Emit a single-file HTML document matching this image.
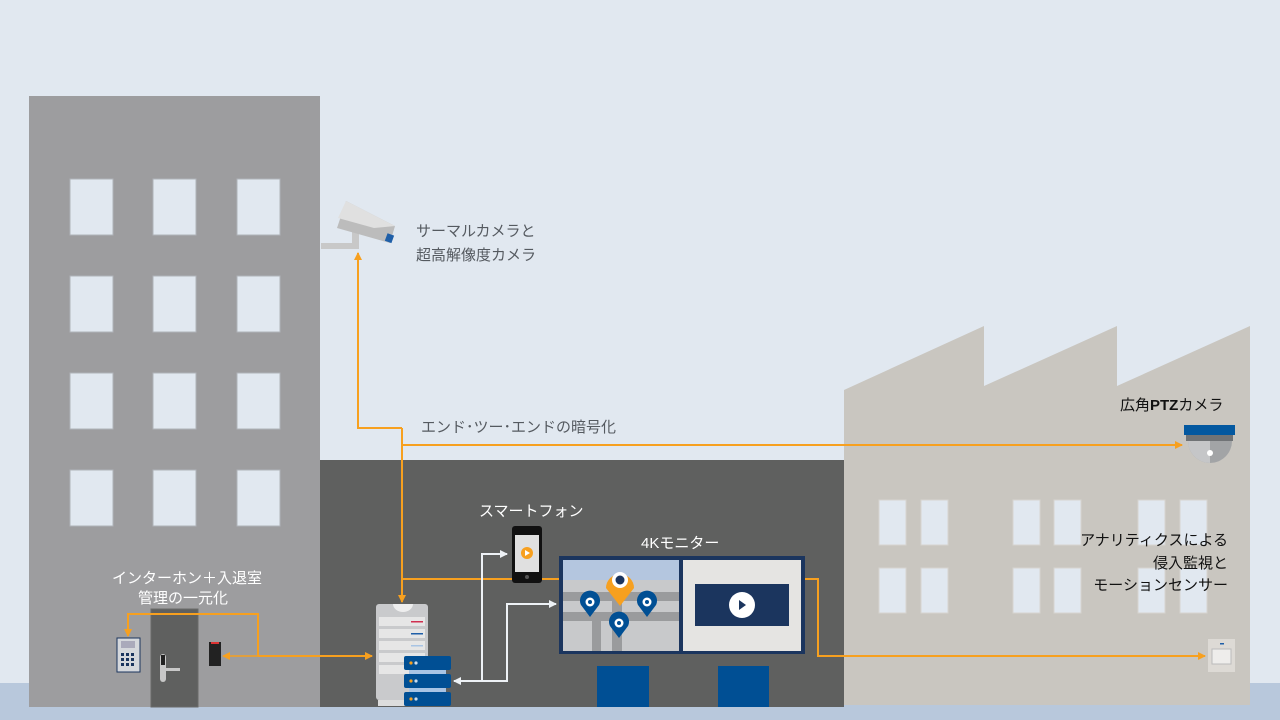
<!DOCTYPE html>
<html><head><meta charset="utf-8"><style>
html,body{margin:0;padding:0;background:#e1e8f0;}
svg{display:block}
text{font-family:"Liberation Sans","Noto Sans CJK JP",sans-serif;font-size:15px;}
</style></head><body>
<svg width="1280" height="720" viewBox="0 0 1280 720" xmlns="http://www.w3.org/2000/svg">
<defs>
<marker id="ao" markerWidth="8" markerHeight="8" refX="7" refY="4" orient="auto" markerUnits="userSpaceOnUse"><path d="M0,0 L8,4 L0,8z" fill="#f7a01f"/></marker>
<marker id="aw" markerWidth="8" markerHeight="8" refX="7" refY="4" orient="auto" markerUnits="userSpaceOnUse"><path d="M0,0 L8,4 L0,8z" fill="#eef2f6"/></marker>
</defs>
<rect width="1280" height="720" fill="#e1e8f0"/>
<rect x="0" y="683" width="1280" height="37" fill="#b8c8dc"/>
<!-- left building -->
<rect x="29" y="96" width="291" height="611" fill="#9d9d9f"/>
<g fill="#e1e8f0" stroke="#b0b3b8" stroke-width="1">
<rect x="70" y="179" width="43" height="56"/><rect x="153" y="179" width="43" height="56"/><rect x="237" y="179" width="43" height="56"/>
<rect x="70" y="276" width="43" height="56"/><rect x="153" y="276" width="43" height="56"/><rect x="237" y="276" width="43" height="56"/>
<rect x="70" y="373" width="43" height="56"/><rect x="153" y="373" width="43" height="56"/><rect x="237" y="373" width="43" height="56"/>
<rect x="70" y="470" width="43" height="56"/><rect x="153" y="470" width="43" height="56"/><rect x="237" y="470" width="43" height="56"/>
</g>
<!-- middle -->
<rect x="320" y="460" width="524" height="247" fill="#5f605f"/>
<!-- factory -->
<polygon points="844,390 984,326 984,386 1117,326 1117,386 1250,326 1250,705 844,705" fill="#c9c6c0"/>
<g fill="#e1e8f0" stroke="#d6d4cf">
<rect x="879" y="500" width="27" height="45"/><rect x="921" y="500" width="27" height="45"/>
<rect x="1013" y="500" width="27" height="45"/><rect x="1054" y="500" width="27" height="45"/>
<rect x="1138" y="500" width="27" height="45"/><rect x="1180" y="500" width="27" height="45"/>
<rect x="879" y="568" width="27" height="45"/><rect x="921" y="568" width="27" height="45"/>
<rect x="1013" y="568" width="27" height="45"/><rect x="1054" y="568" width="27" height="45"/>
<rect x="1138" y="568" width="27" height="45"/><rect x="1180" y="568" width="27" height="45"/>
</g>
<!-- door -->
<rect x="151" y="609" width="47" height="98" fill="#5f605f" stroke="#6a6a6a"/>
<rect x="160" y="654" width="6" height="28" rx="3" fill="#c8c8c8"/><rect x="160" y="668" width="20" height="3" fill="#c8c8c8"/><rect x="161" y="655" width="4" height="10" fill="#222"/>
<!-- keypad -->
<rect x="117" y="638" width="23" height="34" fill="#d5d8dc" stroke="#1b355e"/>
<rect x="121" y="641" width="14" height="7" fill="#aab"/>
<g fill="#1b355e"><rect x="121" y="653" width="3" height="3"/><rect x="126" y="653" width="3" height="3"/><rect x="131" y="653" width="3" height="3"/><rect x="121" y="658" width="3" height="3"/><rect x="126" y="658" width="3" height="3"/><rect x="131" y="658" width="3" height="3"/><rect x="121" y="663" width="3" height="3"/><rect x="126" y="663" width="3" height="3"/><rect x="131" y="663" width="3" height="3"/></g>
<!-- reader -->
<rect x="209" y="642" width="12" height="24" fill="#222"/><rect x="211" y="642" width="8" height="2" fill="#d33"/>
<!-- server tower -->
<rect x="376" y="604" width="52" height="96" rx="3" fill="#c9cacc"/>
<path d="M393,604 a10,8 0 0 0 20,0z" fill="#eee"/>
<g fill="#e6e6e6"><rect x="379" y="617" width="46" height="9"/><rect x="379" y="629" width="46" height="9"/><rect x="379" y="641" width="46" height="9"/><rect x="379" y="653" width="46" height="9"/><rect x="379" y="665" width="46" height="9"/></g>
<rect x="411" y="621" width="12" height="1.5" fill="#d03050"/><rect x="411" y="633" width="12" height="1.5" fill="#1f5fa8"/><rect x="411" y="645" width="12" height="1.5" fill="#a8c4e4"/>
<rect x="378" y="700" width="40" height="6" fill="#ddd"/>
<rect x="409" y="668" width="37" height="38" fill="#a8c4e4"/>
<g fill="#004f94"><rect x="404" y="656" width="47" height="14" rx="2"/><rect x="404" y="674" width="47" height="14" rx="2"/><rect x="404" y="692" width="47" height="14" rx="2"/></g>
<g fill="#f7a01f"><circle cx="411" cy="663" r="1.6"/><circle cx="411" cy="681" r="1.6"/><circle cx="411" cy="699" r="1.6"/></g>
<g fill="#cde"><circle cx="416" cy="663" r="1.6"/><circle cx="416" cy="681" r="1.6"/><circle cx="416" cy="699" r="1.6"/></g>
<!-- orange connectors -->
<g fill="none" stroke="#f7a01f" stroke-width="2">
<polyline points="402,579 560,579"/>
<polyline points="805,579 818,579 818,656 1205,656" marker-end="url(#ao)"/>
<polyline points="402,428 358,428 358,253" marker-end="url(#ao)"/>
<polyline points="402,428 402,602" marker-end="url(#ao)"/>
<polyline points="402,445 1182,445" marker-end="url(#ao)"/>
<polyline points="258,656 372,656" marker-end="url(#ao)"/>
<polyline points="258,656 258,614 128,614 128,636" marker-end="url(#ao)"/>
<polyline points="258,656 223,656" stroke-width="1.5" marker-end="url(#ao)"/>
</g>
<!-- white connectors -->
<g fill="none" stroke="#eef2f6" stroke-width="2">
<polyline points="482,681 454,681" marker-end="url(#aw)"/>
<polyline points="482,681 482,554 507,554" marker-end="url(#aw)"/>
<polyline points="482,681 507,681 507,604 556,604" marker-end="url(#aw)"/>
</g>
<!-- phone -->
<rect x="512" y="526" width="30" height="57" rx="3" fill="#111"/>
<rect x="515" y="535" width="24" height="37" fill="#e0e0e0"/>
<circle cx="527" cy="553" r="6" fill="#f7a01f"/><path d="M525,550 L530,553 L525,556z" fill="#fff"/>
<circle cx="527" cy="577" r="2" fill="#555"/>
<!-- monitor -->
<rect x="559" y="556" width="246" height="98" fill="#1b355e"/>
<rect x="563" y="560" width="116" height="91" fill="#c8c9cb"/>
<rect x="563" y="560" width="116" height="20" fill="#b4c6df"/>
<rect x="563" y="592" width="116" height="9" fill="#9a9b9d"/><rect x="563" y="612" width="116" height="9" fill="#9a9b9d"/>
<rect x="592" y="612" width="9" height="39" fill="#9a9b9d"/><rect x="612" y="592" width="10" height="59" fill="#9a9b9d"/>
<path d="M620,606 L606,588 A14,14 0 1 1 634,588 Z" fill="#f7a01f"/><circle cx="620" cy="580" r="8" fill="#fff"/><circle cx="620" cy="580" r="4.5" fill="#1b355e"/>
<g><path d="M590,617 L581,605 A10,10 0 1 1 599,605 Z" fill="#004f94"/><circle cx="590" cy="602" r="4.5" fill="#fff"/><circle cx="590" cy="602" r="2" fill="#004f94"/></g>
<g><path d="M647,617 L638,605 A10,10 0 1 1 656,605 Z" fill="#004f94"/><circle cx="647" cy="602" r="4.5" fill="#fff"/><circle cx="647" cy="602" r="2" fill="#004f94"/></g>
<g><path d="M619,638 L610,626 A10,10 0 1 1 628,626 Z" fill="#004f94"/><circle cx="619" cy="623" r="4.5" fill="#fff"/><circle cx="619" cy="623" r="2" fill="#004f94"/></g>
<rect x="683" y="560" width="118" height="91" fill="#e5e4e2"/>
<rect x="695" y="584" width="94" height="42" fill="#1b355e"/>
<circle cx="742" cy="605" r="13" fill="#fff"/><path d="M739,600 L746,605 L739,610z" fill="#1b355e"/>
<rect x="597" y="666" width="52" height="41" fill="#004f94"/><rect x="718" y="666" width="51" height="41" fill="#004f94"/>
<!-- thermal camera -->
<rect x="321" y="243" width="38" height="6" fill="#c8c8c8"/><rect x="352" y="232" width="7" height="15" fill="#c8c8c8"/>
<polygon points="346,201 395,226 390,243 337,228" fill="#bcbcbc"/>
<polygon points="346,201 395,226 374,228 338,218" fill="#e0e0e0"/>
<rect x="386" y="234" width="7" height="8" fill="#1f5fa8" transform="rotate(20 389 238)"/>
<!-- PTZ -->
<path d="M1188,441 A22,22 0 0 0 1232,441 Z" fill="#a2a4a6"/>
<path d="M1188,441 A22,22 0 0 0 1210,463 L1210,441 Z" fill="#c5c6c8"/>
<rect x="1186" y="434" width="47" height="7" fill="#707376"/>
<rect x="1184" y="425" width="51" height="10" fill="#0358a0"/>
<circle cx="1210" cy="453" r="3" fill="#fff"/>
<!-- motion sensor -->
<rect x="1208" y="639" width="27" height="33" fill="#dddad5"/>
<rect x="1212" y="649" width="19" height="15" fill="#eeedeb" stroke="#bbb"/>
<rect x="1220" y="643" width="4" height="1.5" fill="#1f5fa8"/>
<!-- labels -->
<g fill="#555a60">
<text x="416" y="236">サーマルカメラと</text>
<text x="416" y="260">超高解像度カメラ</text>
<text x="421" y="432">エンド･ツー･エンドの暗号化</text>
</g>
<g fill="#ffffff">
<text x="479" y="516">スマートフォン</text>
<text x="641" y="548" font-size="16">4Kモニター</text>
<text x="112" y="583">インターホン＋入退室</text>
<text x="138" y="603">管理の一元化</text>
</g>
<g fill="#111">
<text x="1120" y="410">広角<tspan font-weight="bold">PTZ</tspan>カメラ</text>
<text x="1228" y="545" text-anchor="end">アナリティクスによる</text>
<text x="1228" y="568" text-anchor="end">侵入監視と</text>
<text x="1228" y="590" text-anchor="end">モーションセンサー</text>
</g>
</svg>
</body></html>
